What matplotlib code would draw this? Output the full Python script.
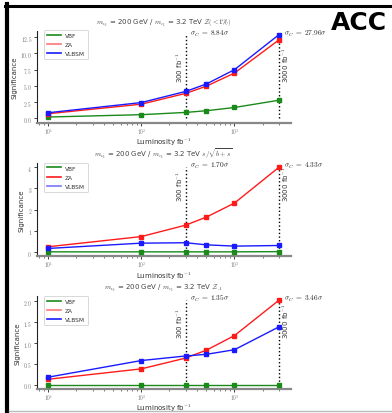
import matplotlib
matplotlib.use("Agg")
import matplotlib.pyplot as plt
import numpy as np
from matplotlib.lines import Line2D
from matplotlib.ticker import MultipleLocator

plt.rcParams['mathtext.fontset'] = 'cm'
plt.rcParams['axes.unicode_minus'] = False
plt.rcParams['axes.formatter.use_mathtext'] = True

# ---- data ----
lumi = [10, 100, 300, 500, 1000, 3000]
series_names = ['VBF', 'ZA', 'VLBSM']
series_colors = ['#1a8a1a', '#ff1a1a', '#1a1aff']

p1_vbf = [0.20, 0.56, 0.91, 1.17, 1.67, 2.79]
p1_za = [0.71, 2.18, 3.85, 4.96, 6.98, 12.10]
p1_vlbsm = [0.86, 2.43, 4.15, 5.30, 7.50, 12.90]

p2_vbf = [0.01, 0.01, 0.01, 0.01, 0.01, 0.02]
p2_za = [0.25, 0.73, 1.27, 1.65, 2.31, 4.00]
p2_vlbsm = [0.17, 0.42, 0.44, 0.34, 0.28, 0.31]

p3_vbf = [0.00, 0.00, 0.00, 0.00, 0.00, 0.00]
p3_za = [0.13, 0.38, 0.64, 0.83, 1.18, 2.03]
p3_vlbsm = [0.18, 0.58, 0.69, 0.73, 0.84, 1.39]

titles = [
    r'$m_{\nu_1}$ = 200 GeV / $m_{e_1}$ = 3.2 TeV $\mathcal{Z}(<\!1\%)$',
    r'$m_{\nu_1}$ = 200 GeV / $m_{e_1}$ = 3.2 TeV $s/\sqrt{b+s}$',
    r'$m_{\nu_1}$ = 200 GeV / $m_{e_1}$ = 3.2 TeV $\mathcal{Z}_A$',
]
sigma_300 = ['8.84', '1.70', '1.35']
sigma_3000 = ['27.96', '4.33', '3.46']
lumi_marks = [300, 3000]
lumi_mark_labels = [r'300 fb$^{-1}$', r'3000 fb$^{-1}$']
y_steps = [2.5, 1, 0.5]

panels = [
    [p1_vbf, p1_za, p1_vlbsm],
    [p2_vbf, p2_za, p2_vlbsm],
    [p3_vbf, p3_za, p3_vlbsm],
]
legend_alpha = [[1, 0.6, 1], [1, 1, 0.6], [1, 0.6, 1]]
# vertical position (axes fraction) of the rotated luminosity labels
lumi_label_y = [0.44, 0.59, 0.55]

W, H = 392, 414
fig = plt.figure(figsize=(W / 100, H / 100), dpi=100)

axes_px = [(31.5, 123.5), (164.0, 257.3), (297.0, 389.9)]
left_px, right_px = 36.5, 290.5

lo, hi = np.log10(min(lumi)), np.log10(max(lumi))
mg = 0.05 * (hi - lo)

for i, (top, bot) in enumerate(axes_px):
    ax = fig.add_axes([left_px / W, 1 - bot / H, (right_px - left_px) / W, (bot - top) / H])
    ax.set_xscale('log')
    handles = []
    for vals, name, col, al in zip(panels[i], series_names, series_colors, legend_alpha[i]):
        ax.plot(lumi, vals, color=col, lw=1.0, marker='s', ms=2.3, zorder=3)
        handles.append(Line2D([], [], color=col, lw=1.2, alpha=al))
    ymax = max(max(v) for v in panels[i])
    ax.vlines(lumi_marks, 0, ymax, colors='black', linestyles=':', lw=1.0, zorder=2)
    ax.set_xlim(10 ** (lo - mg), 10 ** (hi + mg))
    ax.yaxis.set_major_locator(MultipleLocator(y_steps[i]))
    tr = ax.get_xaxis_transform()
    ax.text(lumi_marks[0] / 1.03, lumi_label_y[i], lumi_mark_labels[0], rotation=90,
            ha='right', va='bottom', transform=tr, fontsize=5, color='#333333')
    ax.text(lumi_marks[1] * 1.04, lumi_label_y[i], lumi_mark_labels[1], rotation=90,
            ha='left', va='bottom', transform=tr, fontsize=5, color='#333333')
    ax.text(lumi_marks[0] * 1.1, ymax, r'$\sigma_C\;=\;' + sigma_300[i] + r'\sigma$',
            ha='left', va='baseline', fontsize=5.3, color='#222222')
    ax.text(lumi_marks[1] * 1.12, ymax, r'$\sigma_C\;=\;' + sigma_3000[i] + r'\sigma$',
            ha='left', va='baseline', fontsize=5.3, color='#222222')

    ax.set_title(titles[i], fontsize=5, color='#444444', pad=5)
    ax.set_xlabel(r'Luminosity fb$^{-1}$', fontsize=5, color='#333333', labelpad=0)
    ax.set_ylabel('Significance', fontsize=5, color='#333333', labelpad=2)

    ax.spines['top'].set_visible(False)
    ax.spines['right'].set_visible(False)
    ax.spines['left'].set_color('#222222')
    ax.spines['left'].set_linewidth(0.8)
    ax.spines['bottom'].set_color('#888888')
    ax.spines['bottom'].set_linewidth(1.6)
    ax.tick_params(axis='both', which='major', labelsize=4, colors='#222222',
                   labelcolor='#777777', length=2, width=0.6, pad=1.2,
                   labelfontfamily='cmr10')
    ax.tick_params(axis='x', which='major', labelsize=3.8, pad=0.6)
    ax.tick_params(axis='x', which='minor', length=1.5, width=0.5, colors='#444444')

    leg = ax.legend(handles, series_names, loc='upper left', fontsize=4.2,
                    frameon=True, handlelength=2.4, borderpad=0.5, labelspacing=0.7,
                    borderaxespad=0.4, handletextpad=0.7, bbox_to_anchor=(0.02, 1.03))
    leg.get_frame().set_linewidth(0.5)
    leg.get_frame().set_edgecolor('#bbbbbb')
    for t in leg.get_texts():
        t.set_color('#333333')

fig.text(359 / W, 1 - 23 / H, 'ACC', fontsize=18, fontweight='bold', ha='center', va='center',
         color='black')

# frame lines
fig.add_artist(Line2D([7 / W, 7 / W], [0, 1 - 5 / H], transform=fig.transFigure,
                      color='black', lw=3))
fig.add_artist(Line2D([5 / W, 1], [1 - 6.5 / H, 1 - 6.5 / H], transform=fig.transFigure,
                      color='black', lw=2.2))
fig.add_artist(Line2D([9 / W, 1], [1 - 411.5 / H, 1 - 411.5 / H], transform=fig.transFigure,
                      color='#bbbbbb', lw=1.0))

fig.savefig('out.png', dpi=100)
